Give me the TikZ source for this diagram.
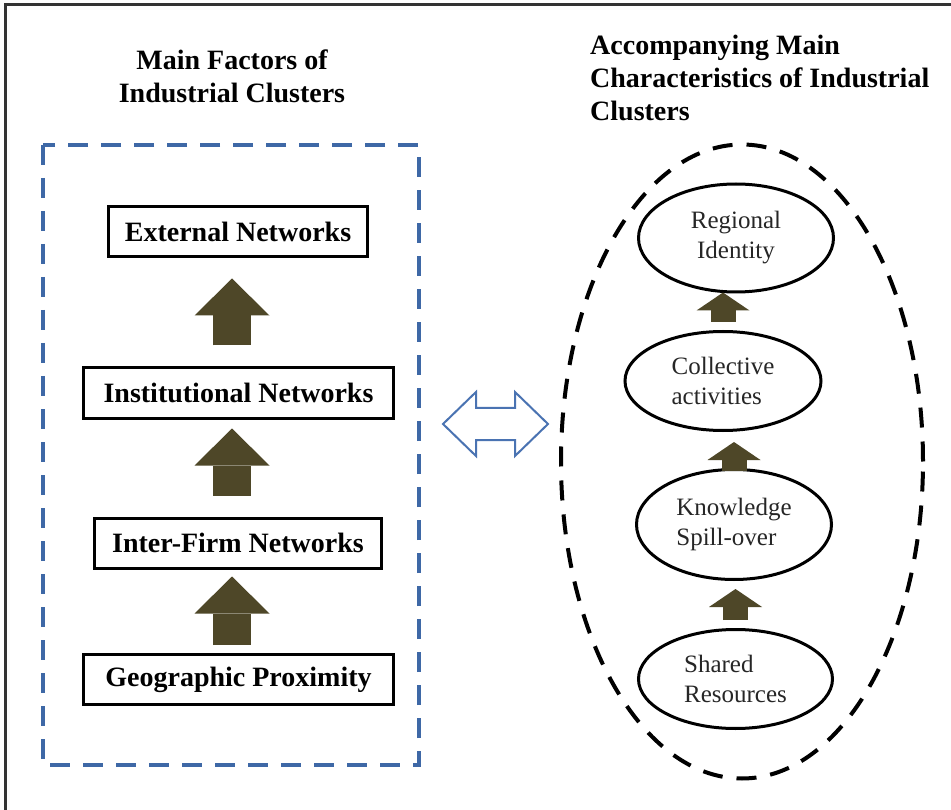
\documentclass[tikz,border=0pt]{standalone}
\usepackage{fontspec}
\setmainfont{Liberation Serif}
\usetikzlibrary{arrows.meta}
\usetikzlibrary{calc}
\usetikzlibrary{shapes.geometric}
\definecolor{arrowbrown}{RGB}{78,71,40}
\definecolor{boxblue}{RGB}{62,104,166}
\definecolor{swapblue}{RGB}{74,115,178}

\begin{document}
\begin{tikzpicture}[
    x=1pt, y=-1pt,
    title/.style={font=\fontsize{28}{33}\selectfont\bfseries, inner sep=0pt},
    factor/.style={draw, line width=3pt, font=\fontsize{28}{33}\selectfont\bfseries, inner xsep=5pt, minimum height=50pt},
    trait/.style={ellipse, draw, line width=3pt, align=left, text=black!85, font=\fontsize{25}{30}\selectfont, inner sep=0pt},
    big arrow/.style={arrowbrown, line width=38pt, -{Triangle[width=75pt,length=37pt,line width=0pt]}},
    small arrow/.style={arrowbrown, line width=25pt, -{Triangle[width=53pt,length=18pt,line width=0pt]}},
    dashed line/.style={line width=3.5pt, dash pattern=on 20pt off 13pt}
    ]

    % page and frame
    \useasboundingbox[fill=white] (0,0) rectangle (951,810);
    \draw[line width=3pt, black!80] (951,5) -- (5,5) -- (5,810);

    % titles
    \node[title, align=center, anchor=north] (factors title) at (232,49.5) {Main Factors of\\Industrial Clusters};
    \node[title, align=left, anchor=north west] (traits title) at (590,34.5) {Accompanying Main\\Characteristics of Industrial\\Clusters};

    % main factors
    \draw[dashed line, boxblue] (43,145) rectangle (419,765);
    \node[factor, minimum width=259pt] (ext) at (238,232) {External Networks};
    \node[factor, minimum width=310pt] (inst) at (238.5,393) {Institutional Networks};
    \node[factor, minimum width=287pt] (inter) at (238,543) {Inter-Firm Networks};
    \node[factor, minimum width=310pt] (geo) at (238.5,679.5) {Geographic Proximity};
    \draw[big arrow, shorten <=8pt, shorten >=7pt] ([xshift=-6.5pt]geo.north) -- ([xshift=-6.5pt]geo.north |- inter.south);
    \draw[big arrow, shorten <=21pt, shorten >=9pt] ([xshift=-6pt]inter.north) -- ([xshift=-6pt]inter.north |- inst.south);
    \draw[big arrow, shorten <=21pt, shorten >=20pt] ([xshift=-6.5pt]inst.north) -- ([xshift=-6.5pt]inst.north |- ext.south);

    % link
    \coordinate (swap) at (495.5,424);
    \draw[swapblue, line width=2pt, fill=white] ($(swap)+(-52.5,0)$) -- ++(33,-32) -- ++(0,16) -- ++(39,0) -- ++(0,-16)
        -- ++(33,32) -- ++(-33,32) -- ++(0,-16) -- ++(-39,0) -- ++(0,16) -- cycle;

    % characteristics
    \draw[dashed line, line width=4pt, dash pattern=on 20pt off 14pt] (742,461.5) ellipse [x radius=181pt, y radius=317pt];
    \node[trait, align=center, minimum width=195pt, minimum height=108pt] (reg) at (736,238) {Regional\\Identity};
    \node[trait, minimum width=196pt, minimum height=99pt] (coll) at (723,381) {Collective\\activities};
    \node[trait, minimum width=195pt, minimum height=110pt] (know) at (734,524.5) {Knowledge\\Spill-over};
    \node[trait, minimum width=194pt, minimum height=99pt] (shared) at (735.5,679) {Shared\\Resources};
    \draw[small arrow, shorten <=8pt, shorten >=8pt] (shared.north) -- (shared.north |- know.south);
    \draw[small arrow, shorten <=-3pt, shorten >=10pt] (know.north) -- (know.north |- coll.south);
    \draw[small arrow, shorten <=8pt, shorten >=-1pt] (coll.north) -- (coll.north |- reg.south);

\end{tikzpicture}
\end{document}
